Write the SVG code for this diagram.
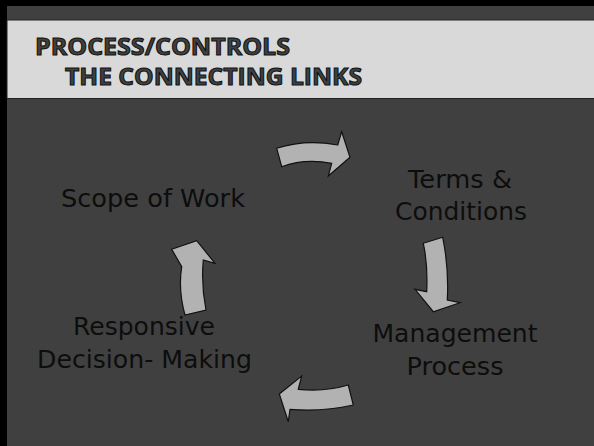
<svg xmlns="http://www.w3.org/2000/svg" width="594" height="446" viewBox="0 0 594 446">
<style>
.lbl{font-family:"DejaVu Sans","Liberation Sans",sans-serif;font-size:25px;fill:#0d0d0d;text-anchor:middle}
.ttl{font-family:"Open Sans","DejaVu Sans",sans-serif;font-weight:bold;font-size:23px;fill:#404040;stroke:#111;stroke-width:1}
.arw{fill:#b2b2b2;stroke:#111;stroke-width:1.2;stroke-linejoin:miter}
</style>
<rect x="0" y="0" width="594" height="446" fill="#404040"/>
<rect x="0" y="0" width="594" height="6" fill="#000"/>
<rect x="0" y="0" width="7" height="446" fill="#000"/>
<rect x="7" y="20" width="588" height="78.5" fill="#d9d9d9" stroke="#222" stroke-width="1"/>
<g id="title">
<text class="ttl" x="35" y="55" textLength="255" lengthAdjust="spacingAndGlyphs">PROCESS/CONTROLS</text>
<text class="ttl" x="65" y="85" textLength="297" lengthAdjust="spacingAndGlyphs">THE CONNECTING LINKS</text>
</g>
<g id="connectors">
<path class="arw" d="M276.7,148.3 Q305,139 337.7,145 L341.7,131.7 L350,157.3 L328.3,176 L331.7,163.3 Q305,158 281.7,166.7 Z"/>
<path class="arw" d="M442.7,237.3 Q449,268 447.3,300 L460,302.7 L433.3,311.7 L415,289.3 L426.7,291.7 Q428,265 423.3,243.3 Z"/>
<path class="arw" d="M348.3,385 Q325,392 298.3,389.3 L301.7,376 L279.3,394 L288.3,421.7 L290,409.3 Q322,412 353.3,405 Z"/>
<path class="arw" d="M185,315 Q178,290 181.7,266.7 L171.7,249.3 L196.7,240.7 L215,263.3 L203.3,260 Q201,285 206,310 Z"/>
</g>
<g id="node-scope"><text class="lbl" x="153" y="207" textLength="184" lengthAdjust="spacingAndGlyphs">Scope of Work</text></g>
<g id="node-terms">
<text class="lbl" x="460" y="188" textLength="104" lengthAdjust="spacingAndGlyphs">Terms &amp;</text>
<text class="lbl" x="461" y="220" textLength="132" lengthAdjust="spacingAndGlyphs">Conditions</text>
</g>
<g id="node-management">
<text class="lbl" x="455" y="342" textLength="165" lengthAdjust="spacingAndGlyphs">Management</text>
<text class="lbl" x="455" y="375" textLength="97" lengthAdjust="spacingAndGlyphs">Process</text>
</g>
<g id="node-responsive">
<text class="lbl" x="144" y="335" textLength="142" lengthAdjust="spacingAndGlyphs">Responsive</text>
<text class="lbl" x="144.5" y="368" textLength="215" lengthAdjust="spacingAndGlyphs">Decision- Making</text>
</g>
</svg>
